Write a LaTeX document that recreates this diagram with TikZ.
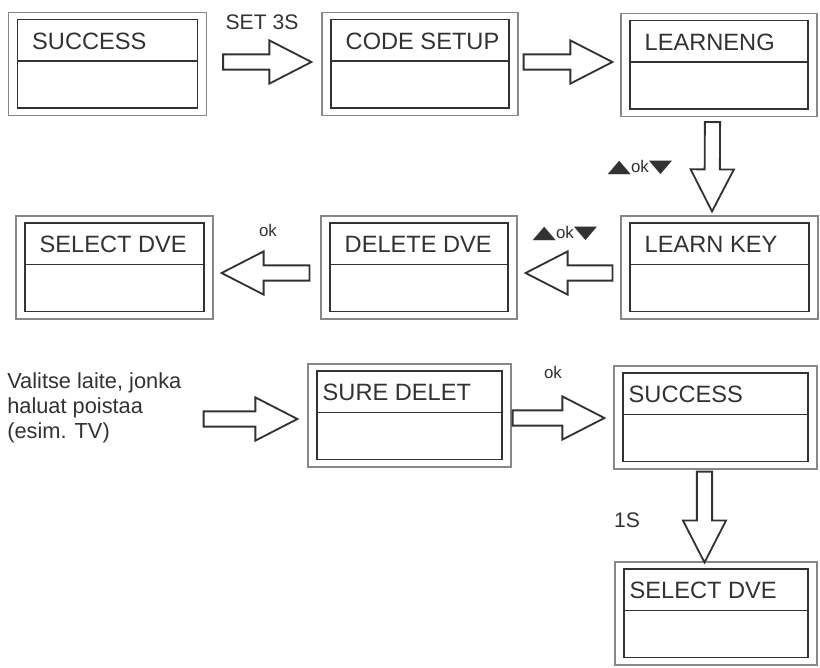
\documentclass[tikz,border=0pt]{standalone}
\usepackage{fontspec}
\usepackage{graphicx}
\setmainfont{Liberation Sans}
\newfontfamily\symfont{DejaVu Sans}
\usetikzlibrary{calc}
\definecolor{lcdInk}{RGB}{50,50,50}
\definecolor{lcdFrame}{RGB}{135,135,135}

\def\shafthalf{0.19cm}
\def\headhalf{0.54cm}
\def\headlen{1.05cm}

% one display screen: outer frame, inner panel, divider and title text
\newcommand{\screen}[5][24]{%
  \node[frame, minimum width=#4] (#2) at (#3) {};
  \draw[panel] ($(#2.north west)+(9.5,7.5)$) rectangle ($(#2.south east)+(-9.5,-8)$);
  \draw[panel] ($(#2.north west)+(9.5,49)$) -- ($(#2.north east)+(-9.5,49)$);
  \node[screentext, anchor=west] (#2-title) at ($(#2.north west)+(#1,29)$) {#5};
}

% hollow block arrow from #1 (tail) to #2 (tip)
\newcommand{\blockarrow}[2]{%
  \coordinate (fa-a) at #1;
  \coordinate (fa-b) at #2;
  \coordinate (fa-h) at ($(fa-b)!\headlen!(fa-a)$);
  \draw[fat] ($(fa-a)!\shafthalf!90:(fa-b)$) -- ($(fa-h)!\shafthalf!90:(fa-b)$)
    -- ($(fa-h)!\headhalf!90:(fa-b)$) -- (fa-b) -- ($(fa-h)!\headhalf!-90:(fa-b)$)
    -- ($(fa-h)!\shafthalf!-90:(fa-b)$) -- ($(fa-a)!\shafthalf!-90:(fa-b)$) -- cycle;
}

\newcommand{\updown}{{\symfont\scalebox{1.8}[1.05]{▲}}ok{\symfont\scalebox{1.8}[1.05]{▼}}}

\begin{document}
\begin{tikzpicture}[
  x=0.025cm, y=-0.025cm,
  frame/.style={draw=lcdFrame, line width=0.8pt, minimum height=2.575cm, inner sep=0pt},
  panel/.style={draw=lcdInk, line width=1.2pt},
  screentext/.style={font=\fontsize{16.8}{19}\selectfont, text=lcdInk, inner sep=0pt},
  fat/.style={draw=lcdInk, line width=1.3pt, line join=miter},
  cue/.style={font=\fontsize{15}{18}\selectfont, text=lcdInk, inner sep=0pt},
  smallcue/.style={font=\fontsize{12}{14}\selectfont, text=lcdInk, inner sep=0pt},
  hint/.style={font=\fontsize{15.5}{17.8}\selectfont, text=lcdInk, align=left, inner sep=0pt}
]
\useasboundingbox (0,0) rectangle (820,667);

% first row
\screen{success}{107.5,64}{4.95cm}{SUCCESS}
\screen{codesetup}{420,64}{4.9cm}{CODE SETUP}
\screen{learneng}{719,65}{4.9cm}{LEARNENG}

% second row
\screen{selectdve}{114.5,267.5}{4.925cm}{SELECT DVE}
\screen{deletedve}{419,267.5}{4.9cm}{DELETE DVE}
\screen{learnkey}{719.5,267.5}{4.925cm}{LEARN KEY}

% third and fourth rows
\node[hint, anchor=west] (valitse) at (7,408) {Valitse laite, jonka\\haluat poistaa\\(esim. TV)};
\screen[15]{suredelet}{409.5,415.5}{5.075cm}{SURE DELET}
\screen[15]{success2}{715.5,417.5}{5.075cm}{SUCCESS}
\screen[15]{selectdve2}{716,613.5}{5.05cm}{SELECT DVE}

% arrows
\blockarrow{($(success.east)+(16,-2)$)}{($(codesetup.west)+(-10,-2)$)}
\blockarrow{($(codesetup.east)+(5,-2)$)}{($(learneng.west)+(-8,-3)$)}
\blockarrow{($(learneng.south)+(-6.5,5)$)}{($(learnkey.north)+(-7.5,-4)$)}
\blockarrow{($(learnkey.west)+(-8,5.5)$)}{($(deletedve.east)+(8,5.5)$)}
\blockarrow{($(deletedve.west)+(-11,5.5)$)}{($(selectdve.east)+(8,5.5)$)}
\blockarrow{($(valitse.east)+(22,11)$)}{($(suredelet.west)+(-10,3.5)$)}
\blockarrow{($(suredelet.east)+(1,2.5)$)}{($(success2.west)+(-9,0.5)$)}
\blockarrow{($(success2.south)+(-11,2)$)}{($(selectdve2.north)+(-11.5,1)$)}

% key hints
\node[cue] (set3s) at (262,22) {SET 3S};
\node[smallcue] (keys1) at (640,167) {\updown};
\node[smallcue] (keys2) at (565,233) {\updown};
\node[smallcue] (ok1) at (268,230) {ok};
\node[smallcue] (ok2) at (553,372) {ok};
\node[cue] (onesec) at (627,520) {1S};
\end{tikzpicture}
\end{document}
